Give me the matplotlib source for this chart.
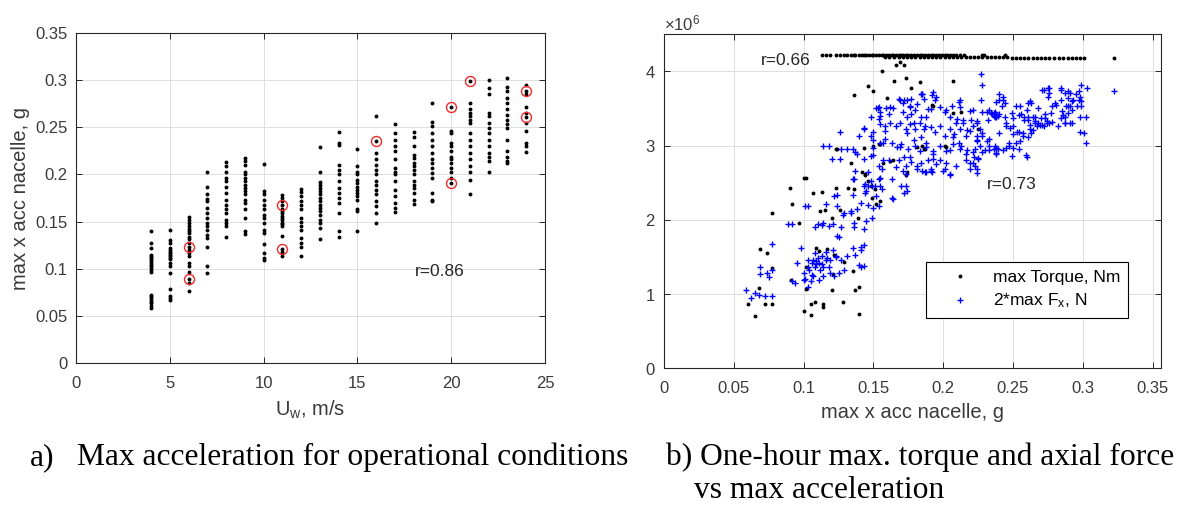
import numpy as np
import matplotlib
matplotlib.use("Agg")
import matplotlib.pyplot as plt
from matplotlib.lines import Line2D
from matplotlib.ticker import FuncFormatter, MultipleLocator

plt.rcParams["font.family"] = ["Liberation Sans", "DejaVu Sans"]
plt.rcParams["mathtext.default"] = "regular"
plt.rcParams["axes.formatter.use_mathtext"] = True

INK = "#262626"
LBL = "#3a3a3a"
GRID = "#dedede"

# ---------------------------------------------------------------------------
# (a) max nacelle acceleration per wind speed bin
# ---------------------------------------------------------------------------
wind = [4, 5, 6, 7, 8, 9, 10, 11, 12, 13, 14, 15, 16, 17, 18, 19, 20, 21, 22, 23, 24]
acc_by_wind = [
    [0.140, 0.127, 0.122, 0.115, 0.113, 0.111, 0.110, 0.108, 0.106, 0.104, 0.103, 0.101,
     0.099, 0.097, 0.072, 0.071, 0.069, 0.067, 0.065, 0.064, 0.060, 0.058],
    [0.141, 0.130, 0.127, 0.122, 0.120, 0.118, 0.117, 0.115, 0.113, 0.111, 0.110, 0.106,
     0.103, 0.095, 0.078, 0.071, 0.069, 0.067],
    [0.155, 0.152, 0.149, 0.145, 0.142, 0.140, 0.138, 0.134, 0.131, 0.127, 0.123, 0.120,
     0.117, 0.113, 0.106, 0.103, 0.097, 0.089, 0.085, 0.076],
    [0.203, 0.187, 0.179, 0.174, 0.172, 0.164, 0.159, 0.154, 0.149, 0.145, 0.141, 0.136,
     0.133, 0.123, 0.103, 0.095],
    [0.213, 0.209, 0.203, 0.196, 0.193, 0.187, 0.180, 0.173, 0.168, 0.163, 0.159, 0.152,
     0.149, 0.145, 0.134],
    [0.217, 0.214, 0.210, 0.203, 0.200, 0.196, 0.193, 0.189, 0.186, 0.182, 0.179, 0.173,
     0.170, 0.163, 0.154, 0.140, 0.137],
    [0.211, 0.182, 0.179, 0.173, 0.168, 0.163, 0.157, 0.154, 0.149, 0.141, 0.138, 0.126,
     0.117, 0.111, 0.109],
    [0.178, 0.175, 0.172, 0.168, 0.163, 0.161, 0.159, 0.156, 0.154, 0.152, 0.149, 0.147,
     0.145, 0.135, 0.121, 0.118, 0.113],
    [0.185, 0.181, 0.177, 0.172, 0.168, 0.163, 0.154, 0.150, 0.145, 0.141, 0.133, 0.127,
     0.123, 0.114],
    [0.229, 0.203, 0.192, 0.189, 0.186, 0.182, 0.179, 0.175, 0.172, 0.168, 0.164, 0.161,
     0.157, 0.152, 0.148, 0.143, 0.131],
    [0.245, 0.233, 0.231, 0.210, 0.205, 0.200, 0.193, 0.186, 0.180, 0.175, 0.170, 0.159,
     0.140, 0.134],
    [0.227, 0.209, 0.203, 0.200, 0.194, 0.191, 0.187, 0.184, 0.180, 0.177, 0.173, 0.163,
     0.161, 0.140],
    [0.262, 0.235, 0.223, 0.216, 0.210, 0.205, 0.200, 0.193, 0.189, 0.184, 0.179, 0.172,
     0.166, 0.159, 0.148],
    [0.253, 0.244, 0.237, 0.230, 0.225, 0.216, 0.207, 0.203, 0.200, 0.193, 0.184, 0.177,
     0.170, 0.164, 0.160],
    [0.245, 0.240, 0.230, 0.221, 0.217, 0.212, 0.209, 0.205, 0.200, 0.193, 0.189, 0.186,
     0.180, 0.173, 0.169],
    [0.276, 0.256, 0.251, 0.244, 0.237, 0.230, 0.223, 0.216, 0.212, 0.207, 0.202, 0.196,
     0.180, 0.173, 0.172],
    [0.272, 0.246, 0.244, 0.233, 0.230, 0.225, 0.219, 0.216, 0.212, 0.207, 0.203, 0.196,
     0.191],
    [0.299, 0.276, 0.269, 0.265, 0.262, 0.258, 0.255, 0.244, 0.237, 0.230, 0.223, 0.216,
     0.209, 0.203, 0.194, 0.179],
    [0.300, 0.292, 0.285, 0.265, 0.262, 0.255, 0.249, 0.244, 0.237, 0.230, 0.223, 0.219,
     0.214, 0.203],
    [0.302, 0.293, 0.288, 0.281, 0.276, 0.269, 0.263, 0.258, 0.253, 0.249, 0.237, 0.225,
     0.219, 0.214, 0.212],
    [0.295, 0.289, 0.285, 0.272, 0.265, 0.261, 0.255, 0.246, 0.233, 0.230, 0.224],
]
circled_wind = [6, 6, 11, 11, 16, 20, 20, 21, 24, 24]
circled_acc = [0.123, 0.089, 0.168, 0.121, 0.235, 0.272, 0.191, 0.299, 0.289, 0.261]

# ---------------------------------------------------------------------------
# (b) one-hour max torque / 2*axial force vs max acceleration (units of 1e6)
# ---------------------------------------------------------------------------
torque_pts = [
    (0.060, 0.86), (0.065, 0.71), (0.068, 1.08), (0.069, 1.61), (0.072, 0.87), (0.074, 1.55),
    (0.077, 2.09), (0.077, 0.86), (0.077, 1.35), (0.090, 2.43), (0.092, 2.22), (0.091, 1.19),
    (0.097, 1.96), (0.100, 0.77), (0.100, 2.57), (0.102, 2.57), (0.102, 1.07), (0.102, 1.37),
    (0.105, 0.72), (0.107, 2.36), (0.105, 0.87), (0.108, 0.89), (0.109, 1.62), (0.111, 1.58),
    (0.112, 2.12), (0.113, 2.37), (0.114, 0.87), (0.114, 0.83), (0.115, 2.13), (0.117, 1.61),
    (0.120, 2.03), (0.120, 1.06), (0.121, 1.27), (0.122, 1.53), (0.123, 2.96), (0.123, 2.43),
    (0.126, 2.13), (0.128, 0.89), (0.129, 1.43), (0.132, 2.43), (0.134, 2.76), (0.135, 1.31),
    (0.136, 3.68), (0.136, 2.41), (0.137, 1.06), (0.139, 2.03), (0.140, 1.10), (0.140, 0.73),
    (0.142, 2.64), (0.143, 2.97), (0.144, 2.61), (0.146, 3.80), (0.146, 2.52), (0.148, 2.45),
    (0.149, 2.30), (0.150, 3.74), (0.150, 3.00), (0.151, 2.41), (0.152, 2.22), (0.154, 3.02),
    (0.155, 2.25), (0.156, 4.00), (0.157, 2.77), (0.160, 3.64), (0.162, 2.79), (0.165, 3.87),
    (0.166, 4.09), (0.169, 4.12), (0.172, 4.09), (0.173, 3.91), (0.173, 2.61), (0.177, 3.77),
    (0.183, 3.86), (0.185, 3.00), (0.187, 2.95), (0.193, 3.54), (0.207, 3.87), (0.213, 3.45),
    (0.201, 3.00), (0.225, 3.22), (0.192, 3.55), (0.207, 3.44), (0.155, 3.02), (0.181, 2.98),
    (0.186, 2.96), (0.164, 2.81), (0.174, 2.64), (0.202, 2.98), (0.124, 2.96), (0.144, 2.62),
]
# torque saturates at rated value: three closely spaced rows near 4.2e6
cap_hi_level = 4.22
cap_hi_x = [0.113, 0.116, 0.119, 0.123, 0.126, 0.129, 0.131, 0.134, 0.136, 0.137, 0.140,
            0.142, 0.143, 0.145, 0.147, 0.149, 0.150, 0.152, 0.154, 0.156, 0.157, 0.159,
            0.161, 0.163, 0.164, 0.166, 0.168, 0.170, 0.171, 0.173, 0.175, 0.177, 0.179,
            0.181, 0.183, 0.185, 0.187, 0.189, 0.191, 0.193, 0.195, 0.197, 0.199, 0.201,
            0.203, 0.205, 0.207, 0.209, 0.212, 0.215, 0.228, 0.229, 0.244]
cap_mid_level = 4.20
cap_mid_x = [0.158, 0.161, 0.165, 0.168, 0.171, 0.174, 0.177, 0.180, 0.183, 0.186, 0.189,
             0.192, 0.195, 0.198, 0.201, 0.204, 0.207, 0.210, 0.213, 0.216, 0.219, 0.222,
             0.225, 0.228, 0.231, 0.234, 0.237, 0.240, 0.243, 0.246]
cap_lo_level = 4.18
cap_lo_x = [0.249, 0.252, 0.255, 0.258, 0.261, 0.264, 0.267, 0.270, 0.273, 0.276, 0.279,
            0.283, 0.286, 0.289, 0.292, 0.295, 0.298, 0.301, 0.322]

fx_pts = [
    (0.059, 1.06), (0.062, 0.95), (0.065, 1.01), (0.068, 0.99), (0.069, 1.37), (0.069, 1.27),
    (0.072, 0.97), (0.074, 1.29), (0.075, 1.23), (0.077, 1.67), (0.077, 1.33), (0.077, 0.97),
    (0.089, 1.94), (0.092, 1.94), (0.092, 1.17), (0.095, 1.42), (0.098, 1.62), (0.100, 1.19),
    (0.101, 2.18), (0.103, 2.18), (0.100, 1.28), (0.103, 1.46), (0.103, 1.37),
    (0.106, 1.42), (0.107, 1.46), (0.108, 1.37), (0.108, 1.55), (0.109, 1.40), (0.110, 1.49),
    (0.111, 1.42), (0.112, 1.33), (0.113, 1.51), (0.114, 1.37), (0.116, 1.46), (0.114, 1.24),
    (0.107, 1.24), (0.108, 1.91), (0.111, 1.19), (0.105, 1.17),
    (0.114, 3.00), (0.118, 3.00), (0.120, 2.82), (0.126, 3.18), (0.126, 2.82), (0.127, 2.96),
    (0.131, 2.96), (0.135, 2.96), (0.114, 1.96), (0.118, 1.92), (0.121, 1.94), (0.122, 2.32),
    (0.124, 2.18), (0.124, 1.78), (0.127, 1.91), (0.129, 2.09), (0.121, 1.60), (0.123, 1.51),
    (0.127, 1.46), (0.129, 1.33), (0.131, 1.51), (0.118, 1.37), (0.119, 1.28), (0.122, 1.24),
    (0.135, 1.62), (0.137, 1.53), (0.141, 1.64), (0.141, 1.37), (0.140, 1.39), (0.136, 1.96),
    (0.134, 2.12), (0.138, 2.14), (0.141, 2.23), (0.143, 1.88), (0.144, 2.36), (0.135, 2.55),
    (0.137, 2.91), (0.140, 3.13), (0.143, 3.24), (0.144, 2.48), (0.145, 2.39), (0.146, 2.64),
    (0.148, 2.52), (0.149, 2.45), (0.150, 2.16), (0.149, 2.03), (0.148, 2.86), (0.150, 2.97),
    (0.150, 3.18), (0.148, 3.38), (0.152, 2.32), (0.154, 2.18), (0.155, 2.45), (0.154, 2.55),
    (0.153, 3.51), (0.154, 3.36), (0.157, 3.04), (0.156, 2.68), (0.158, 3.20),
    (0.223, 2.95), (0.233, 3.09), (0.239, 2.95), (0.249, 2.86), (0.259, 2.88), (0.223, 2.73),
    (0.205, 2.61), (0.200, 2.66), (0.191, 2.66), (0.187, 2.64), (0.172, 2.36), (0.173, 2.45),
    (0.164, 2.28), (0.267, 3.27), (0.274, 3.31), (0.282, 3.27), (0.287, 3.38), (0.291, 3.31),
    (0.152, 3.51), (0.155, 3.45), (0.159, 3.51), (0.164, 3.51), (0.168, 3.63), (0.171, 3.58),
    (0.177, 3.63), (0.185, 3.69), (0.189, 3.49),
    (0.154, 3.52), (0.155, 3.40), (0.162, 3.52), (0.161, 3.43), (0.169, 3.61), (0.174, 3.61),
    (0.176, 3.52), (0.171, 3.45), (0.177, 3.43), (0.181, 3.56), (0.185, 3.70), (0.186, 3.63),
    (0.193, 3.72), (0.195, 3.65), (0.191, 3.49), (0.188, 3.38), (0.198, 3.52), (0.201, 3.45),
    (0.206, 3.54), (0.212, 3.52), (0.219, 3.47), (0.210, 3.36), (0.214, 3.31), (0.220, 3.34),
    (0.224, 3.31),
    (0.155, 3.29), (0.158, 3.27), (0.162, 3.31), (0.166, 3.27), (0.169, 3.31), (0.173, 3.22),
    (0.176, 3.29), (0.180, 3.22), (0.183, 3.31), (0.186, 3.22), (0.191, 3.25), (0.194, 3.18),
    (0.198, 3.27), (0.201, 3.13), (0.205, 3.22), (0.208, 3.16), (0.212, 3.22), (0.216, 3.13),
    (0.219, 3.20), (0.224, 3.13),
    (0.143, 3.22), (0.148, 3.13), (0.150, 3.07), (0.155, 3.04), (0.158, 3.09), (0.163, 3.04),
    (0.167, 2.98), (0.170, 3.02), (0.175, 2.96), (0.180, 3.00), (0.183, 2.93), (0.188, 2.98),
    (0.193, 2.93), (0.198, 3.00), (0.202, 2.93), (0.207, 3.02), (0.212, 2.96), (0.216, 2.89),
    (0.221, 2.91), (0.225, 2.82),
    (0.138, 2.89), (0.143, 2.82), (0.150, 2.87), (0.154, 2.73), (0.157, 2.80), (0.161, 2.80),
    (0.166, 2.71), (0.168, 2.80), (0.171, 2.66), (0.173, 2.62), (0.177, 2.78), (0.181, 2.69),
    (0.185, 2.66), (0.191, 2.69), (0.189, 2.80), (0.193, 2.82), (0.195, 2.75), (0.201, 2.69),
    (0.205, 2.62), (0.216, 2.80), (0.219, 2.69),
    (0.155, 2.57), (0.163, 2.55), (0.170, 2.46), (0.174, 2.39), (0.136, 2.55), (0.137, 2.66),
    (0.143, 2.46), (0.146, 2.46), (0.151, 2.46), (0.156, 2.42), (0.163, 2.30), (0.135, 2.33),
    (0.227, 3.96), (0.228, 3.82), (0.240, 3.69), (0.238, 3.59), (0.243, 3.62), (0.244, 3.57),
    (0.242, 3.53), (0.221, 3.48), (0.228, 3.45), (0.231, 3.45), (0.234, 3.44), (0.236, 3.40),
    (0.237, 3.45), (0.238, 3.39), (0.240, 3.42), (0.244, 3.39), (0.249, 3.44), (0.250, 3.37),
    (0.255, 3.53), (0.256, 3.42), (0.261, 3.57), (0.262, 3.60), (0.258, 3.39), (0.261, 3.35),
    (0.264, 3.39), (0.266, 3.30), (0.268, 3.51), (0.270, 3.37), (0.272, 3.75), (0.275, 3.78),
    (0.276, 3.71), (0.275, 3.66), (0.278, 3.53), (0.273, 3.42), (0.274, 3.33), (0.276, 3.30),
    (0.281, 3.55), (0.284, 3.78), (0.289, 3.74), (0.291, 3.71), (0.295, 3.69), (0.297, 3.73),
    (0.299, 3.82), (0.303, 3.78), (0.289, 3.64), (0.292, 3.60), (0.298, 3.66), (0.299, 3.60),
    (0.289, 3.53), (0.291, 3.53), (0.296, 3.53), (0.285, 3.46), (0.289, 3.44), (0.284, 3.37),
    (0.287, 3.30), (0.292, 3.30), (0.299, 3.53), (0.302, 3.39), (0.298, 3.19), (0.301, 3.17),
    (0.302, 3.04), (0.322, 3.74),
    (0.224, 3.33), (0.221, 3.26), (0.226, 3.22), (0.228, 3.13), (0.231, 3.06), (0.233, 2.99),
    (0.236, 2.95), (0.238, 2.97), (0.224, 3.06), (0.226, 2.99), (0.228, 2.92), (0.225, 2.83),
    (0.221, 2.77), (0.224, 2.68), (0.245, 2.97), (0.250, 2.97), (0.254, 2.95), (0.260, 2.85),
    (0.255, 3.06), (0.254, 3.19), (0.248, 3.24), (0.245, 3.30), (0.250, 3.15), (0.257, 3.13),
    (0.262, 3.28), (0.263, 3.17), (0.269, 3.28),
    (0.235, 3.42), (0.236, 3.44), (0.238, 3.43), (0.237, 3.38), (0.239, 3.40),
    (0.212, 3.62), (0.211, 3.59), (0.192, 3.68), (0.194, 3.62), (0.184, 3.69),
    (0.240, 3.17), (0.245, 3.26), (0.247, 3.03), (0.237, 2.99), (0.238, 2.90), (0.230, 2.94),
    (0.250, 3.26), (0.261, 3.39), (0.266, 3.33), (0.271, 3.28), (0.262, 3.22),
    # denser core of the cloud
    (0.172, 3.62), (0.176, 3.53), (0.180, 3.48), (0.174, 3.39), (0.179, 3.30), (0.184, 3.39),
    (0.187, 3.26), (0.174, 3.17), (0.179, 3.07), (0.184, 3.12), (0.188, 3.03), (0.193, 2.89),
    (0.198, 2.80), (0.184, 2.76), (0.188, 2.65), (0.192, 2.65), (0.181, 2.72), (0.173, 2.72),
    (0.176, 2.85), (0.172, 2.85), (0.169, 2.98),
    (0.202, 3.48), (0.205, 3.39), (0.209, 3.30), (0.214, 3.35), (0.217, 3.21), (0.207, 3.12),
    (0.211, 3.03), (0.205, 2.94), (0.217, 2.94), (0.222, 2.85), (0.224, 3.08), (0.228, 3.17),
    (0.232, 3.35), (0.227, 3.62), (0.233, 3.48), (0.240, 3.62), (0.243, 3.66), (0.202, 2.76),
    (0.209, 2.72), (0.219, 2.76), (0.224, 2.63), (0.213, 2.99),
    (0.252, 3.53), (0.254, 3.41), (0.258, 3.35), (0.260, 3.48), (0.263, 3.57), (0.266, 3.39),
    (0.268, 3.30), (0.272, 3.26), (0.273, 3.37), (0.277, 3.44), (0.278, 3.32), (0.280, 3.57),
    (0.284, 3.62), (0.286, 3.41), (0.288, 3.53), (0.292, 3.48), (0.293, 3.62), (0.297, 3.62),
    (0.298, 3.39), (0.253, 3.19), (0.257, 3.17), (0.261, 3.12), (0.264, 3.21), (0.252, 3.03),
    (0.247, 2.99), (0.243, 2.94), (0.238, 2.89), (0.233, 2.94), (0.287, 3.30), (0.271, 3.75),
    (0.276, 3.77), (0.284, 3.75), (0.287, 3.71),
    (0.094, 1.15), (0.101, 1.20), (0.103, 1.10), (0.104, 1.32), (0.106, 1.26), (0.109, 1.44),
    (0.113, 1.41), (0.116, 1.57), (0.117, 1.48), (0.119, 1.46), (0.123, 1.50), (0.125, 1.28),
    (0.110, 1.95), (0.113, 1.93), (0.125, 1.77), (0.134, 2.09), (0.136, 1.90), (0.141, 1.59),
    (0.143, 1.38), (0.143, 1.66), (0.124, 2.34), (0.116, 2.22), (0.128, 2.07), (0.145, 1.98),
    (0.146, 2.20),
]


def style(ax):
    ax.grid(True, color=GRID, lw=0.7)
    ax.set_axisbelow(True)
    for s in ax.spines.values():
        s.set_color(INK)
        s.set_linewidth(0.8)
    ax.tick_params(direction="in", length=4, width=0.7, top=True, right=True,
                   colors=INK, labelcolor=LBL, labelsize=12)
    ax.tick_params(axis="x", pad=9)
    ax.tick_params(axis="y", pad=6)


plain = FuncFormatter(lambda v, p: f"{v:g}")

fig = plt.figure(figsize=(11.78, 5.07), dpi=100)

# ---- panel (a) ----
ax1 = fig.add_axes([0.0645, 0.2840, 0.3981, 0.6509])
for w, accs in zip(wind, acc_by_wind):
    ax1.plot(np.full(len(accs), w), accs, "o", ms=2.8, mew=0, color="k")
ax1.plot(circled_wind, circled_acc, "o", ms=7.2, mfc="none", mec="#ee2a2a", mew=1.0)
ax1.set_xlim(0, 25)
ax1.set_ylim(0, 0.35)
ax1.xaxis.set_major_locator(MultipleLocator(5))
ax1.yaxis.set_major_locator(MultipleLocator(0.05))
ax1.xaxis.set_major_formatter(plain)
ax1.yaxis.set_major_formatter(plain)
style(ax1)
ax1.set_xlabel("U$_w$, m/s", fontsize=14.5, color=LBL, labelpad=6)
ax1.set_ylabel("max x acc nacelle, g", fontsize=14.5, color=LBL, labelpad=4)
ax1.text(18.05, 0.097, "r=0.86", fontsize=12.5, color=INK, va="center")

# ---- panel (b) ----
ax2 = fig.add_axes([0.5637, 0.2736, 0.4219, 0.6588])
tq = np.array(torque_pts)
fx = np.array(fx_pts)
dot_kw = dict(ls="none", marker="o", ms=2.8, mew=0, color="k")
ax2.plot(tq[:, 0], tq[:, 1] * 1e6, **dot_kw)
ax2.plot(cap_hi_x, np.full(len(cap_hi_x), cap_hi_level * 1e6), **dot_kw)
ax2.plot(cap_mid_x, np.full(len(cap_mid_x), cap_mid_level * 1e6), **dot_kw)
ax2.plot(cap_lo_x, np.full(len(cap_lo_x), cap_lo_level * 1e6), **dot_kw)
plus_kw = dict(ls="none", marker="+", ms=5, mew=1.0, color="#0000ff")
ax2.plot(fx[:, 0], fx[:, 1] * 1e6, **plus_kw)
ax2.set_xlim(0, 0.356)
ax2.set_ylim(0, 4.5e6)
ax2.xaxis.set_major_locator(MultipleLocator(0.05))
ax2.yaxis.set_major_locator(MultipleLocator(1e6))
ax2.xaxis.set_major_formatter(plain)
style(ax2)
ax2.yaxis.get_offset_text().set_fontsize(12)
ax2.yaxis.get_offset_text().set_color(LBL)
ax2.set_xlabel("max x acc nacelle, g", fontsize=14.5, color=LBL, labelpad=5)
ax2.text(0.0697, 4.14e6, "r=0.66", fontsize=12.5, color=INK, va="center")
ax2.text(0.2315, 2.47e6, "r=0.73", fontsize=12.5, color=INK, va="center")

handles = [Line2D([], [], **dot_kw), Line2D([], [], **plus_kw)]
leg = ax2.legend(handles, ["max Torque, Nm", "2*max F$_x$, N"], loc="lower left",
                 bbox_to_anchor=(0.527, 0.15), fontsize=12.5, frameon=True,
                 fancybox=False, framealpha=1, edgecolor="k", handlelength=3.0,
                 handletextpad=0.4, borderpad=0.45, labelspacing=0.4, borderaxespad=0)
leg.get_frame().set_linewidth(0.8)

# ---- captions ----
cap = dict(fontsize=22.7, family=["Liberation Serif", "DejaVu Serif"], va="baseline")
fig.text(30 / 1178, 1 - 465 / 507, "a)", **cap)
fig.text(77 / 1178, 1 - 465 / 507, "Max acceleration for operational conditions", **cap)
fig.text(666 / 1178, 1 - 465 / 507, "b) One-hour max. torque and axial force", **cap)
fig.text(694 / 1178, 1 - 498 / 507, "vs max acceleration", **cap)

fig.savefig("out.png", dpi=100)
